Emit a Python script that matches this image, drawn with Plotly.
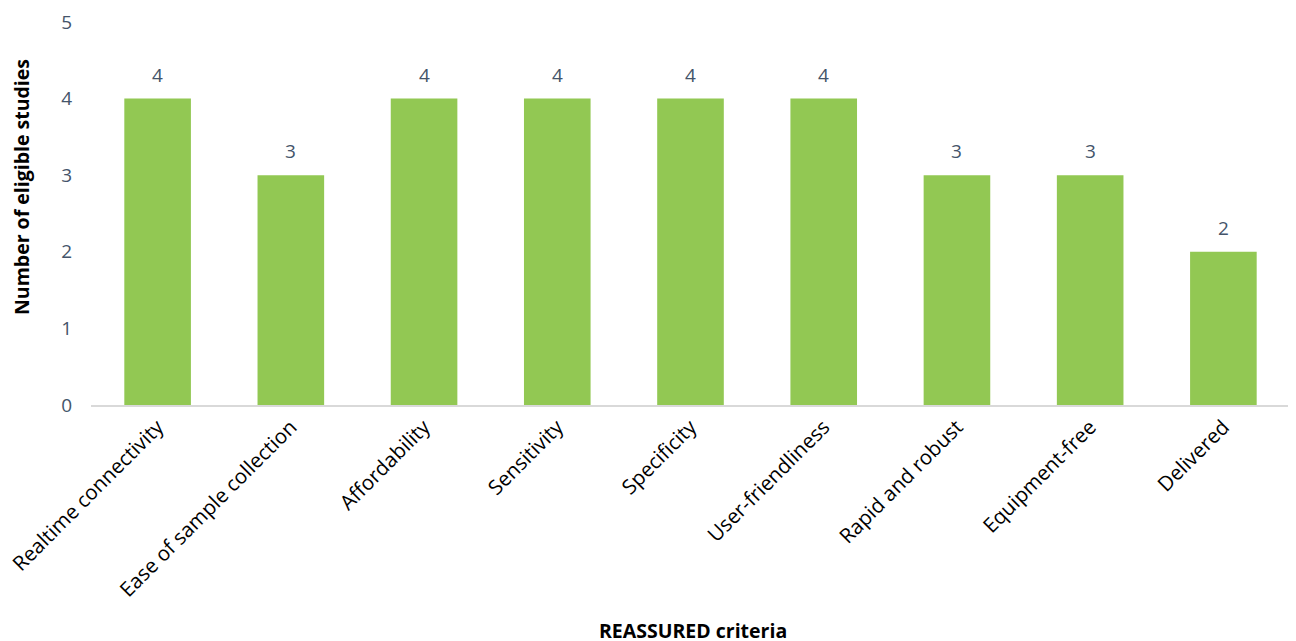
import plotly.graph_objects as go

categories = ["Realtime connectivity", "Ease of sample collection", "Affordability",
              "Sensitivity", "Specificity", "User-friendliness", "Rapid and robust",
              "Equipment-free", "Delivered"]
values = [4, 3, 4, 4, 4, 4, 3, 3, 2]
y_ticks = [0, 1, 2, 3, 4, 5]

font_family = "Open Sans, Lato, sans-serif"
label_color = "#44546A"

# page body has an 8px default margin, so the figure is sized to fill the rest
W, H = 1288, 633
ML, MR, MT, MB = 83, 6, 14, 236

fig = go.Figure(go.Bar(
    x=categories, y=values,
    marker=dict(color="#92C853", line=dict(width=0)),
    cliponaxis=False,
))

plot_w = W - ML - MR
plot_h = H - MT - MB
annotations = [
    dict(x=c, y=v, text=str(v), xref="x", yref="y", showarrow=False,
         yanchor="middle", yshift=24,
         font=dict(size=19, color=label_color, family=font_family))
    for c, v in zip(categories, values)
]
annotations += [
    dict(text="<b>Number of eligible studies</b>", x=-(ML - 13) / plot_w,
         y=((H - MB) - 179) / plot_h,
         xref="paper", yref="paper", textangle=-90, showarrow=False,
         font=dict(size=19.5, color="black", family=font_family),
         xanchor="center", yanchor="middle"),
    dict(text="<b>REASSURED criteria</b>", x=0.502, y=-(622 - (H - MB)) / plot_h,
         xref="paper", yref="paper", showarrow=False, yanchor="middle",
         font=dict(size=19.5, color="black", family=font_family)),
]

fig.update_layout(
    width=W, height=H,
    margin=dict(l=ML, r=MR, t=MT, b=MB, autoexpand=False),
    plot_bgcolor="white", paper_bgcolor="white",
    bargap=0.5, showlegend=False,
    xaxis=dict(showline=True, linecolor="#D9D9D9", linewidth=2, showgrid=False,
               tickangle=-45, ticks="", automargin=False,
               tickfont=dict(size=20.5, color="black", family=font_family)),
    yaxis=dict(range=[0, 5], tickvals=y_ticks, showgrid=False, zeroline=False,
               showline=False, ticks="", ticklabelstandoff=18, automargin=False,
               tickfont=dict(size=19, color=label_color, family=font_family)),
    annotations=annotations,
)

fig.write_html("out.html")
